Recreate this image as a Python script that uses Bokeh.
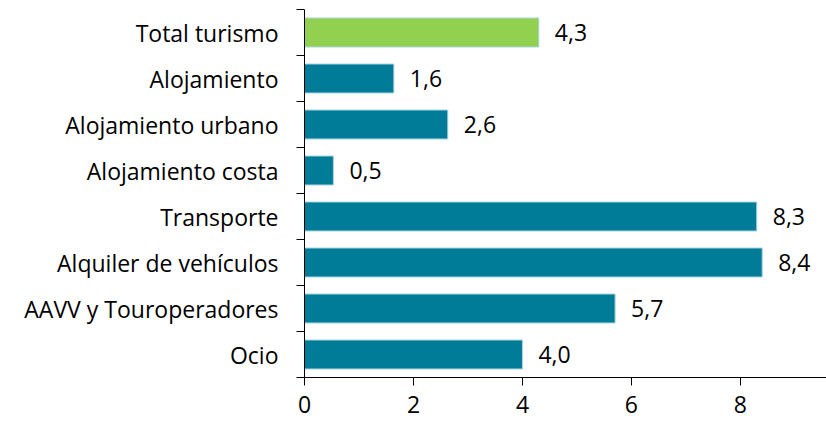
from bokeh.plotting import figure
from bokeh.models import Range1d, FixedTicker, LinearAxis, ColumnDataSource
from bokeh.core.properties import value
from bokeh.embed import file_html
from bokeh.resources import INLINE

categories = ["Total turismo", "Alojamiento", "Alojamiento urbano", "Alojamiento costa",
              "Transporte", "Alquiler de vehículos", "AAVV y Touroperadores", "Ocio"]
values = [4.3, 1.64, 2.63, 0.53, 8.3, 8.4, 5.7, 4.0]
x_ticks = [0, 2, 4, 6, 8]

GREEN = "#92D050"
TEAL = "#007C99"
FONT = "Open Sans"
FS = "23px"

n = len(categories)
ys = [n - i - 0.5 for i in range(n)]
colors = [GREEN] + [TEAL] * (n - 1)
texts = [f"{v:.1f}".replace(".", ",") for v in values]

src = ColumnDataSource(dict(y=ys, v=values, c=colors, t=texts))

p = figure(width=826, height=424, output_backend="svg", toolbar_location=None,
           x_range=Range1d(0, 9.58), y_range=Range1d(0, n),
           min_border_left=304, min_border_top=9, min_border_right=0, min_border_bottom=47,
           outline_line_color=None, background_fill_color="white")
p.xgrid.visible = False
p.ygrid.visible = False

p.hbar(y="y", right="v", left=0, height=0.63, fill_color="c", line_color="#a8d4df",
       line_width=1, source=src)
p.text(x="v", y="y", text="t", x_offset=16, text_baseline="middle", text_align="left",
       text_font=value(FONT), text_font_size=FS, text_color="black", source=src)

# x axis
xa = p.xaxis[0]
xa.ticker = FixedTicker(ticks=x_ticks)
xa.major_tick_out = 8
xa.major_tick_in = 0
xa.minor_tick_line_color = None
xa.axis_line_color = "black"
xa.major_tick_line_color = "black"
xa.major_label_text_font = FONT
xa.major_label_text_font_size = FS
xa.major_label_text_color = "black"
xa.major_label_standoff = 10

# y axis: tick marks between categories
ya = p.yaxis[0]
ya.ticker = FixedTicker(ticks=list(range(n + 1)))
ya.major_label_overrides = {i: "" for i in range(n + 1)}
ya.major_tick_out = 8
ya.major_tick_in = 0
ya.minor_tick_line_color = None
ya.axis_line_color = "black"
ya.major_tick_line_color = "black"
ya.major_label_standoff = 0

# y axis: category labels at centers
la = LinearAxis(ticker=FixedTicker(ticks=ys),
                major_label_overrides={y: c for y, c in zip(ys, categories)},
                major_tick_out=0, major_tick_in=0, minor_tick_line_color=None,
                axis_line_color=None, major_tick_line_color=None,
                major_label_text_font=FONT, major_label_text_font_size=FS,
                major_label_text_color="black", major_label_standoff=18)
p.add_layout(la, "left")

open("out.html", "w").write(file_html(p, INLINE))
